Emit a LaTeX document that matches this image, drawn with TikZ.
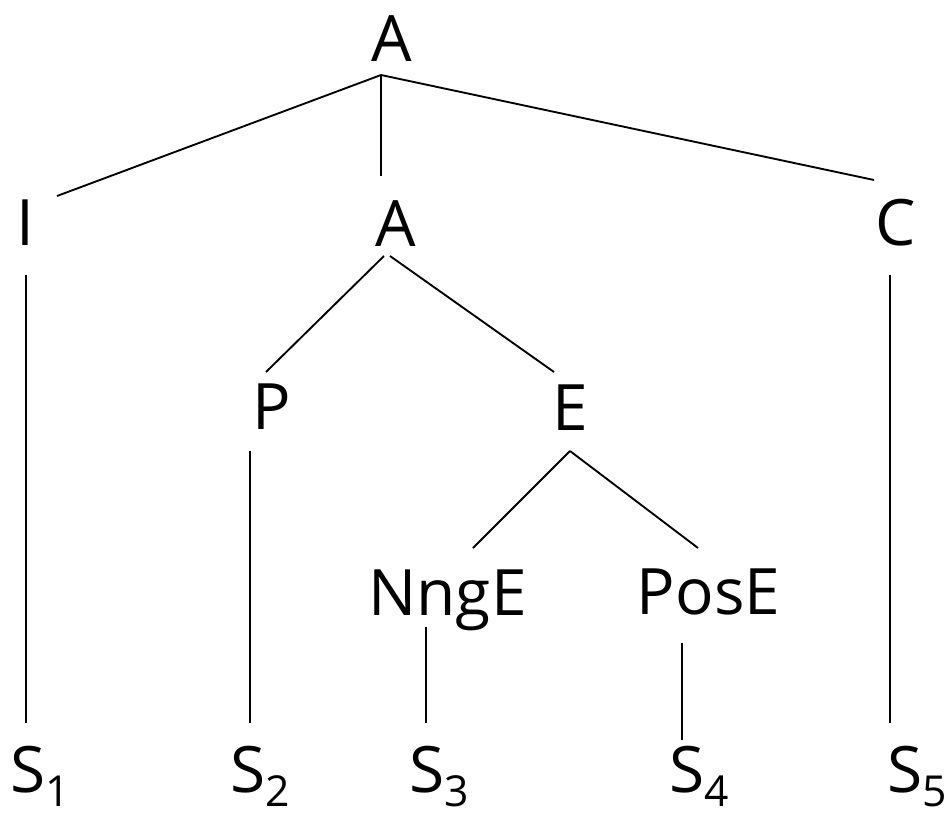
\documentclass[tikz,border=0pt]{standalone}
\usepackage{fontspec}
\setmainfont{Open Sans}
\usepackage{tikz}
\usetikzlibrary{calc}
\newcommand{\subidx}[1]{\raisebox{-10.5pt}{\fontsize{32}{36}\selectfont #1}}

\begin{document}
\begin{tikzpicture}[x = .75pt, y = -.75pt, line width = 1.4pt, every node/.style={anchor = base, inner sep = 0pt, font = \fontsize{48}{56}\selectfont}]
\useasboundingbox (0,0) rectangle (949,814);
% top level
\node (a0) at (392,61) {A};
\node (i1) at (25.5,245) {I};
\node (a1) at (396,246) {A};
\node (c1) at (895.5,245) {C};
\node (p1) at (272,429) {P};
\node (e1) at (570,430) {E};
\node (n1) at (447.5,615) {NngE};
\node (q1) at (708.5,614) {PosE};
% leaves
\node (s1) at (40,792) {S\subidx{1}};
\node (s2) at (260.5,792) {S\subidx{2}};
\node (s3) at (439.5,792) {S\subidx{3}};
\node (s4) at (699,792) {S\subidx{4}};
\node (s5) at (917.5,792) {S\subidx{5}};
% branches
\draw ($(a0.base)+(-11,14)$) -- ($(i1.base)+(31.5,-49)$);
\draw ($(a0.base)+(-11,14)$) -- ($(a1.base)+(-15,-70)$);
\draw ($(a0.base)+(-11,14)$) -- ($(c1.base)+(-21.5,-65)$);
\draw ($(a1.base)+(-12,10)$) -- ($(p1.base)+(-6,-57)$);
\draw ($(a1.base)+(-6,10)$) -- ($(e1.base)+(-16,-58)$);
\draw ($(e1.base)+(0,21)$) -- ($(n1.base)+(25.5,-67)$);
\draw ($(e1.base)+(0,21)$) -- ($(q1.base)+(-10.5,-66)$);
% down to leaves
\draw ($(i1.base)+(.5,30)$) -- ($(s1.base)+(-14,-69)$);
\draw ($(p1.base)+(-22,22)$) -- ($(s2.base)+(-10.5,-69)$);
\draw ($(n1.base)+(-21.5,12)$) -- ($(s3.base)+(-13.5,-69)$);
\draw ($(q1.base)+(-26.5,29)$) -- ($(s4.base)+(-17,-52)$);
\draw ($(c1.base)+(-5.5,30)$) -- ($(s5.base)+(-27.5,-69)$);
\end{tikzpicture}
\end{document}
